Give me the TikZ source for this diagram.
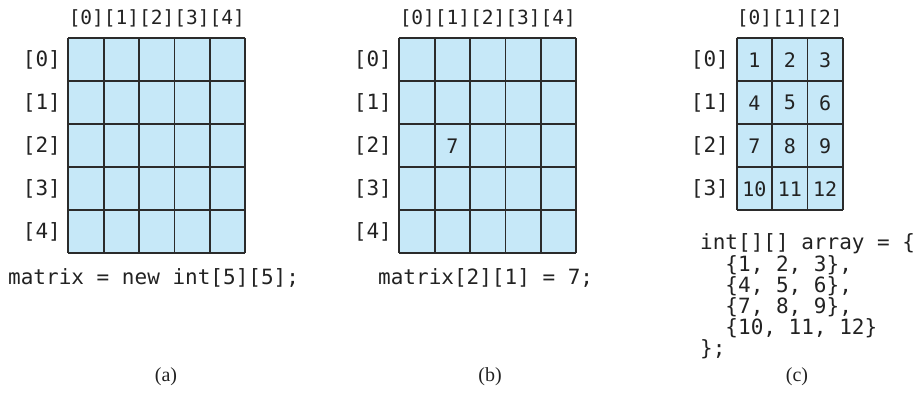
\documentclass[tikz,border=0pt]{standalone}
\usepackage{fontspec}
\setmainfont{Liberation Serif}
\newfontfamily\codefont{DejaVu Sans Mono}
\definecolor{cellblue}{HTML}{C6E8F8}
\definecolor{gridline}{HTML}{2B2B2B}
\definecolor{txt}{HTML}{222222}
\begin{document}
\begin{tikzpicture}[x=1pt,y=-1pt,
  code/.style={font=\codefont\fontsize{21}{21}\selectfont, inner sep=0pt, text=txt},
  collab/.style={font=\codefont\fontsize{19.5}{19.5}\selectfont, inner sep=0pt, text=txt},
  cellnum/.style={font=\codefont\fontsize{20}{20}\selectfont, inner sep=0pt, text=txt},
  capt/.style={font=\fontsize{20}{20}\selectfont, inner sep=0pt, text=txt},
  gridstyle/.style={draw=gridline, line width=1.9pt}]
\useasboundingbox (0,0) rectangle (920,407);
\def\cw{35.4}
\def\ch{43}
% grid (a)
\fill[cellblue] (68.3,38.3) rectangle ++(5*\cw,5*\ch);
\foreach \i in {0,...,5} {
  \draw[gridstyle] (68.3+\i*\cw,38.3) -- ++(0,5*\ch);
  \draw[gridstyle] (68.3,38.3+\i*\ch) -- ++(5*\cw,0);
}
% grid (b)
\fill[cellblue] (399.3,38.3) rectangle ++(5*\cw,5*\ch);
\foreach \i in {0,...,5} {
  \draw[gridstyle] (399.3+\i*\cw,38.3) -- ++(0,5*\ch);
  \draw[gridstyle] (399.3,38.3+\i*\ch) -- ++(5*\cw,0);
}
% grid (c)
\fill[cellblue] (736.7,38.3) rectangle ++(3*\cw,4*\ch);
\foreach \i in {0,...,3} {
  \draw[gridstyle] (736.7+\i*\cw,38.3) -- ++(0,4*\ch);
}
\foreach \i in {0,...,4} {
  \draw[gridstyle] (736.7,38.3+\i*\ch) -- ++(3*\cw,0);
}
% column labels
\node[collab] (ca) at (68.3+2.5*\cw,18.3) {[0][1][2][3][4]};
\node[collab] (cb) at (399.3+2.5*\cw,18.3) {[0][1][2][3][4]};
\node[collab] (cc) at (736.7+1.5*\cw,18.3) {[0][1][2]};
% row labels
\foreach \r in {0,...,4} {
  \node[code, anchor=east] (ra\r) at (61,38.3+\r*\ch+0.5*\ch) {[\r]};
  \node[code, anchor=east] (rb\r) at (392,38.3+\r*\ch+0.5*\ch) {[\r]};
}
\foreach \r in {0,...,3} {
  \node[code, anchor=east] (rc\r) at (729,38.3+\r*\ch+0.5*\ch) {[\r]};
}
% value in (b)
\node[cellnum] (seven) at (399.3+1.5*\cw,38.3+2.5*\ch) {7};
% values in (c)
\node[cellnum] (v1) at (736.7+0.5*\cw,38.3+0.5*\ch) {1};
\node[cellnum] (v2) at (736.7+1.5*\cw,38.3+0.5*\ch) {2};
\node[cellnum] (v3) at (736.7+2.5*\cw,38.3+0.5*\ch) {3};
\node[cellnum] (v4) at (736.7+0.5*\cw,38.3+1.5*\ch) {4};
\node[cellnum] (v5) at (736.7+1.5*\cw,38.3+1.5*\ch) {5};
\node[cellnum] (v6) at (736.7+2.5*\cw,38.3+1.5*\ch) {6};
\node[cellnum] (v7) at (736.7+0.5*\cw,38.3+2.5*\ch) {7};
\node[cellnum] (v8) at (736.7+1.5*\cw,38.3+2.5*\ch) {8};
\node[cellnum] (v9) at (736.7+2.5*\cw,38.3+2.5*\ch) {9};
\node[cellnum] (v10) at (736.7+0.5*\cw,38.3+3.5*\ch) {10};
\node[cellnum] (v11) at (736.7+1.5*\cw,38.3+3.5*\ch) {11};
\node[cellnum] (v12) at (736.7+2.5*\cw,38.3+3.5*\ch) {12};
% statements
\node[code, anchor=west] (sa) at (8,278) {matrix = new int[5][5];};
\node[code, anchor=west] (sb) at (378,278) {matrix[2][1] = 7;};
\node[code, anchor=west] (l1) at (700,244) {int[][] array = \{};
\node[code, anchor=west] (l2) at (700,265) {\phantom{in}\{1, 2, 3\},};
\node[code, anchor=west] (l3) at (700,286) {\phantom{in}\{4, 5, 6\},};
\node[code, anchor=west] (l4) at (700,307) {\phantom{in}\{7, 8, 9\},};
\node[code, anchor=west] (l5) at (700,328) {\phantom{in}\{10, 11, 12\}};
\node[code, anchor=west] (l6) at (700,349) {\};};
% captions
\node[capt] (capa) at (166,377) {(a)};
\node[capt] (capb) at (490,377) {(b)};
\node[capt] (capc) at (797,377) {(c)};
\end{tikzpicture}
\end{document}
